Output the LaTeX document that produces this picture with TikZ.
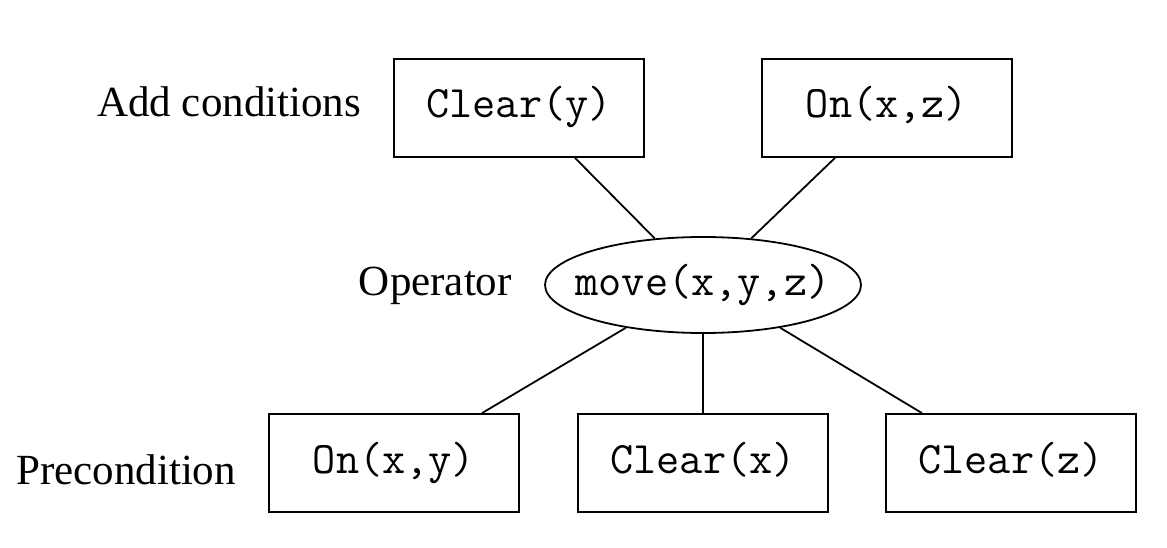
\documentclass[tikz,border=0pt]{standalone}
\usepackage{fontspec}
\setmainfont{Liberation Serif}
\usetikzlibrary{shapes.geometric}
\begin{document}
\begin{tikzpicture}[x=1pt,y=-1pt,
  cond/.style={draw, line width=1.8pt, rectangle, minimum width=250pt, minimum height=98pt,
    inner sep=0pt, text height=26pt, text depth=6pt,
    font=\fontsize{45}{52}\selectfont\ttfamily},
  opnode/.style={draw, line width=1.8pt, ellipse, minimum width=316pt, minimum height=96pt,
    inner xsep=-18pt, inner ysep=0pt, text height=27pt, text depth=6pt,
    font=\fontsize{45}{52}\selectfont\ttfamily},
  rowlabel/.style={anchor=base west, inner sep=0pt, font=\fontsize{43}{50}\selectfont},
  link/.style={line width=1.8pt}]
\useasboundingbox (0,0) rectangle (1167,548);
\fill[white] (0,0) rectangle (1167,548);

% row labels
\node[rowlabel] (lAdd) at (97,117) {Add conditions};
\node[rowlabel, anchor=base east] (lOp) at (512,295) {Operator};
\node[rowlabel] (lPre) at (16,484) {Precondition};

% add conditions
\node[cond] (cy) at (519,108) {Clear(y)};
\node[cond] (onxz) at (887,108) {On(x,z)};

% operator
\node[opnode] (op) at (703,285) {move(x,y,z)};

% preconditions
\node[cond] (onxy) at (394,463) {On(x,y)};
\node[cond] (cx) at (703,463) {Clear(x)};
\node[cond] (cz) at (1011,463) {Clear(z)};

% connectors
\draw[link] ([xshift=56pt]cy.south) -- (op.136);
\draw[link] ([xshift=-52pt]onxz.south) -- (op.44);
\draw[link] (op.209) -- ([xshift=88pt]onxy.north);
\draw[link] (op.south) -- (cx.north);
\draw[link] (op.331) -- ([xshift=-89pt]cz.north);
\end{tikzpicture}
\end{document}
